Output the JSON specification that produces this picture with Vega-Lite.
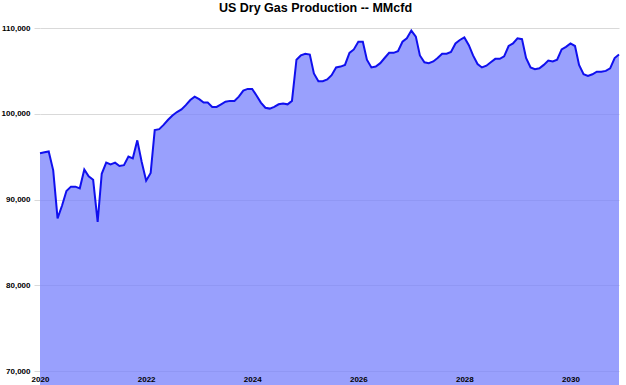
{
  "$schema": "https://vega.github.io/schema/vega-lite/v6.json",
  "autosize": {"type": "none"},
  "padding": {"left": 40, "top": 28, "right": 7, "bottom": 14},
  "width": 579,
  "height": 343,
  "background": "white",
  "title": {
    "text": "US Dry Gas Production -- MMcfd",
    "font": "Liberation Sans",
    "fontSize": 12.5,
    "fontWeight": "bold",
    "color": "black",
    "anchor": "middle",
    "frame": "group",
    "dx": -14,
    "offset": 10
  },
  "data": {
    "values": [
      {"d": "2020-01-01", "v": 95400}, {"d": "2020-02-01", "v": 95500}, {"d": "2020-03-01", "v": 95600}, {"d": "2020-04-01", "v": 93400},
      {"d": "2020-05-01", "v": 87800}, {"d": "2020-06-01", "v": 89300}, {"d": "2020-07-01", "v": 91000}, {"d": "2020-08-01", "v": 91500},
      {"d": "2020-09-01", "v": 91500}, {"d": "2020-10-01", "v": 91300}, {"d": "2020-11-01", "v": 93500}, {"d": "2020-12-01", "v": 92700},
      {"d": "2021-01-01", "v": 92300}, {"d": "2021-02-01", "v": 87400}, {"d": "2021-03-01", "v": 93000}, {"d": "2021-04-01", "v": 94300},
      {"d": "2021-05-01", "v": 94100}, {"d": "2021-06-01", "v": 94300}, {"d": "2021-07-01", "v": 93900}, {"d": "2021-08-01", "v": 94000},
      {"d": "2021-09-01", "v": 95000}, {"d": "2021-10-01", "v": 94800}, {"d": "2021-11-01", "v": 96900}, {"d": "2021-12-01", "v": 94400},
      {"d": "2022-01-01", "v": 92200}, {"d": "2022-02-01", "v": 93100}, {"d": "2022-03-01", "v": 98100}, {"d": "2022-04-01", "v": 98200},
      {"d": "2022-05-01", "v": 98700}, {"d": "2022-06-01", "v": 99300}, {"d": "2022-07-01", "v": 99800}, {"d": "2022-08-01", "v": 100200},
      {"d": "2022-09-01", "v": 100500}, {"d": "2022-10-01", "v": 101000}, {"d": "2022-11-01", "v": 101600}, {"d": "2022-12-01", "v": 102000},
      {"d": "2023-01-01", "v": 101700}, {"d": "2023-02-01", "v": 101300}, {"d": "2023-03-01", "v": 101300}, {"d": "2023-04-01", "v": 100800},
      {"d": "2023-05-01", "v": 100800}, {"d": "2023-06-01", "v": 101100}, {"d": "2023-07-01", "v": 101400}, {"d": "2023-08-01", "v": 101500},
      {"d": "2023-09-01", "v": 101500}, {"d": "2023-10-01", "v": 102000}, {"d": "2023-11-01", "v": 102700}, {"d": "2023-12-01", "v": 102900},
      {"d": "2024-01-01", "v": 102900}, {"d": "2024-02-01", "v": 102100}, {"d": "2024-03-01", "v": 101300}, {"d": "2024-04-01", "v": 100700},
      {"d": "2024-05-01", "v": 100600}, {"d": "2024-06-01", "v": 100800}, {"d": "2024-07-01", "v": 101100}, {"d": "2024-08-01", "v": 101200},
      {"d": "2024-09-01", "v": 101100}, {"d": "2024-10-01", "v": 101500}, {"d": "2024-11-01", "v": 106300}, {"d": "2024-12-01", "v": 106800},
      {"d": "2025-01-01", "v": 107000}, {"d": "2025-02-01", "v": 106900}, {"d": "2025-03-01", "v": 104700}, {"d": "2025-04-01", "v": 103800},
      {"d": "2025-05-01", "v": 103800}, {"d": "2025-06-01", "v": 104000}, {"d": "2025-07-01", "v": 104500}, {"d": "2025-08-01", "v": 105400},
      {"d": "2025-09-01", "v": 105500}, {"d": "2025-10-01", "v": 105700}, {"d": "2025-11-01", "v": 107100}, {"d": "2025-12-01", "v": 107500},
      {"d": "2026-01-01", "v": 108400}, {"d": "2026-02-01", "v": 108400}, {"d": "2026-03-01", "v": 106300}, {"d": "2026-04-01", "v": 105400},
      {"d": "2026-05-01", "v": 105500}, {"d": "2026-06-01", "v": 105900}, {"d": "2026-07-01", "v": 106500}, {"d": "2026-08-01", "v": 107100},
      {"d": "2026-09-01", "v": 107100}, {"d": "2026-10-01", "v": 107300}, {"d": "2026-11-01", "v": 108400}, {"d": "2026-12-01", "v": 108800},
      {"d": "2027-01-01", "v": 109700}, {"d": "2027-02-01", "v": 109000}, {"d": "2027-03-01", "v": 106800}, {"d": "2027-04-01", "v": 106000},
      {"d": "2027-05-01", "v": 105900}, {"d": "2027-06-01", "v": 106100}, {"d": "2027-07-01", "v": 106500}, {"d": "2027-08-01", "v": 107000},
      {"d": "2027-09-01", "v": 107000}, {"d": "2027-10-01", "v": 107200}, {"d": "2027-11-01", "v": 108200}, {"d": "2027-12-01", "v": 108600},
      {"d": "2028-01-01", "v": 108900}, {"d": "2028-02-01", "v": 108000}, {"d": "2028-03-01", "v": 106800}, {"d": "2028-04-01", "v": 105800},
      {"d": "2028-05-01", "v": 105400}, {"d": "2028-06-01", "v": 105600}, {"d": "2028-07-01", "v": 106000}, {"d": "2028-08-01", "v": 106400},
      {"d": "2028-09-01", "v": 106400}, {"d": "2028-10-01", "v": 106700}, {"d": "2028-11-01", "v": 107900}, {"d": "2028-12-01", "v": 108200},
      {"d": "2029-01-01", "v": 108800}, {"d": "2029-02-01", "v": 108700}, {"d": "2029-03-01", "v": 106500}, {"d": "2029-04-01", "v": 105400},
      {"d": "2029-05-01", "v": 105200}, {"d": "2029-06-01", "v": 105300}, {"d": "2029-07-01", "v": 105700}, {"d": "2029-08-01", "v": 106200},
      {"d": "2029-09-01", "v": 106100}, {"d": "2029-10-01", "v": 106300}, {"d": "2029-11-01", "v": 107500}, {"d": "2029-12-01", "v": 107800},
      {"d": "2030-01-01", "v": 108200}, {"d": "2030-02-01", "v": 107900}, {"d": "2030-03-01", "v": 105700}, {"d": "2030-04-01", "v": 104600},
      {"d": "2030-05-01", "v": 104400}, {"d": "2030-06-01", "v": 104600}, {"d": "2030-07-01", "v": 104900}, {"d": "2030-08-01", "v": 104900},
      {"d": "2030-09-01", "v": 105000}, {"d": "2030-10-01", "v": 105300}, {"d": "2030-11-01", "v": 106500}, {"d": "2030-12-01", "v": 106900}
    ]
  },
  "mark": {
    "type": "area",
    "color": "#7780fc",
    "fillOpacity": 0.75,
    "line": {"color": "#1010ee", "strokeWidth": 2}
  },
  "encoding": {
    "x": {
      "field": "d",
      "type": "temporal",
      "scale": {"type": "utc", "nice": false},
      "axis": {
        "title": null,
        "format": "%Y",
        "tickCount": {"interval": "year", "step": 2},
        "grid": false,
        "domain": false,
        "ticks": false,
        "labelPadding": 4,
        "labelFlush": false,
        "labelColor": "black",
        "zindex": 1
      }
    },
    "y": {
      "field": "v",
      "type": "quantitative",
      "scale": {"domain": [70000, 110000], "nice": false, "zero": false},
      "axis": {
        "title": null,
        "values": [70000, 80000, 90000, 100000, 110000],
        "format": ",d",
        "grid": true,
        "gridColor": "#d9d9d9",
        "gridWidth": 1,
        "domain": false,
        "ticks": true,
        "tickSize": 6,
        "tickColor": "#d9d9d9",
        "labelPadding": 4
      }
    }
  },
  "config": {
    "view": {"stroke": null},
    "axis": {
      "labelFont": "Liberation Sans",
      "labelFontSize": 8,
      "labelFontWeight": "bold",
      "labelColor": "black"
    }
  }
}
